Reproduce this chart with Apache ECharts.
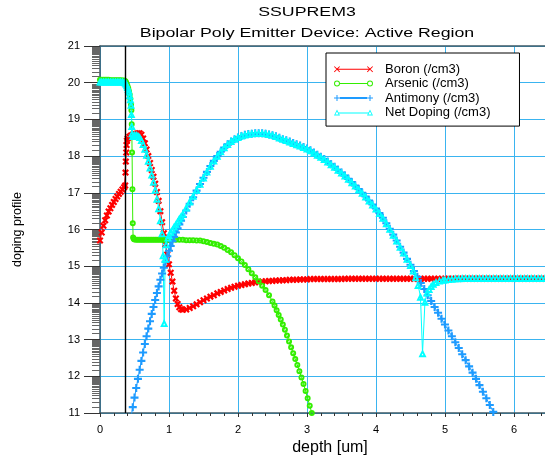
<!DOCTYPE html>
<html>
<head>
<meta charset="utf-8">
<script src="https://cdn.jsdelivr.net/npm/echarts@6/dist/echarts.min.js"></script>
<style>
  html, body { margin: 0; padding: 0; background: #fff; }
  #main { width: 545px; height: 458px; }
</style>
</head>
<body>
<div id="main"></div>
<script>
// depth [um] , log10 concentration [/cm3]
var boron = [
  [0,15.70],[0.025,15.92],[0.05,16.10],[0.075,16.25],[0.1,16.38],[0.125,16.49],[0.15,16.58],[0.175,16.67],
  [0.2,16.75],[0.225,16.83],[0.25,16.90],[0.275,16.97],[0.3,17.03],[0.325,17.09],[0.35,17.15],[0.365,17.20],
  [0.37,17.55],[0.375,17.85],[0.38,18.10],[0.385,18.30],[0.39,18.42],[0.4,18.48],[0.425,18.53],[0.45,18.56],
  [0.475,18.58],[0.5,18.60],[0.525,18.61],[0.55,18.62],[0.575,18.62],[0.6,18.58],[0.625,18.48],[0.65,18.35],
  [0.675,18.18],[0.7,18.00],[0.725,17.81],[0.75,17.62],[0.775,17.44],[0.8,17.25],[0.825,17.02],[0.85,16.78],
  [0.875,16.50],[0.9,16.20],[0.925,15.90],[0.95,15.60],[0.975,15.32],[1.0,15.05],[1.025,14.82],[1.05,14.58],
  [1.075,14.33],[1.1,14.12],[1.125,13.97],[1.15,13.88],[1.175,13.83],[1.2,13.81],[1.25,13.82],[1.3,13.86],
  [1.35,13.91],[1.4,13.96],[1.45,14.02],[1.5,14.07],[1.55,14.12],[1.6,14.17],[1.65,14.21],[1.7,14.26],
  [1.75,14.30],[1.8,14.34],[1.85,14.38],[1.9,14.41],[1.95,14.44],[2.0,14.47],[2.05,14.49],[2.1,14.51],
  [2.15,14.53],[2.2,14.54],[2.25,14.56],[2.3,14.57],[2.35,14.58],[2.4,14.59],[2.45,14.60],[2.5,14.60],
  [2.55,14.61],[2.6,14.61],[2.65,14.62],[2.7,14.62],[2.75,14.63],[2.8,14.63],[2.85,14.63],[2.9,14.64],
  [2.95,14.64],[3.0,14.64],[3.05,14.65],[3.1,14.65],[3.15,14.65],[3.2,14.65],[3.25,14.65],[3.3,14.65],
  [3.35,14.65],[3.4,14.65],[3.45,14.65],[3.5,14.65],[3.55,14.66],[3.6,14.66],[3.65,14.66],[3.7,14.66],
  [3.75,14.66],[3.8,14.66],[3.85,14.66],[3.9,14.66],[3.95,14.66],[4.0,14.66],[4.05,14.66],[4.1,14.66],
  [4.15,14.66],[4.2,14.66],[4.25,14.66],[4.3,14.66],[4.35,14.66],[4.4,14.66],[4.45,14.66],[4.5,14.66],
  [4.55,14.66],[4.6,14.66],[4.65,14.66],[4.7,14.66],[4.75,14.66],[4.8,14.66],[4.85,14.66],[4.9,14.66],
  [4.95,14.66],[5.0,14.66],[5.05,14.66],[5.1,14.66],[5.15,14.66],[5.2,14.66],[5.25,14.66],[5.3,14.66],
  [5.35,14.66],[5.4,14.66],[5.45,14.66],[5.5,14.66],[5.55,14.66],[5.6,14.66],[5.65,14.66],[5.7,14.66],
  [5.75,14.66],[5.8,14.66],[5.85,14.66],[5.9,14.66],[5.95,14.66],[6.0,14.66],[6.05,14.66],[6.1,14.66],
  [6.15,14.66],[6.2,14.66],[6.25,14.66],[6.3,14.66],[6.35,14.66],[6.4,14.66],[6.45,14.66]
];

var arsenic = [
  [0,20.08],[0.025,20.08],[0.05,20.08],[0.075,20.08],[0.1,20.08],[0.125,20.08],[0.15,20.07],[0.175,20.07],
  [0.2,20.07],[0.225,20.07],[0.25,20.07],[0.275,20.07],[0.3,20.07],[0.325,20.06],[0.35,20.06],
  [0.37,20.04],[0.38,20.00],[0.39,19.95],[0.4,19.90],[0.41,19.84],[0.42,19.77],[0.43,19.68],[0.44,19.56],
  [0.45,19.40],[0.455,19.25],[0.46,18.87],[0.465,18.10],[0.47,17.10],[0.475,16.17],[0.48,15.78],[0.49,15.74],
  [0.5,15.73],[0.525,15.72],[0.55,15.72],[0.575,15.72],[0.6,15.72],[0.625,15.72],[0.65,15.72],[0.675,15.72],
  [0.7,15.72],[0.725,15.72],[0.75,15.72],[0.775,15.72],[0.8,15.72],[0.825,15.72],[0.85,15.72],[0.875,15.72],
  [0.9,15.72],[0.925,15.72],[0.95,15.72],[0.975,15.72],[1.0,15.72],[1.05,15.72],[1.1,15.72],[1.15,15.72],
  [1.2,15.72],[1.25,15.71],[1.3,15.71],[1.35,15.71],[1.4,15.70],[1.45,15.70],[1.5,15.68],[1.55,15.66],
  [1.6,15.63],[1.65,15.61],[1.7,15.59],[1.75,15.55],[1.8,15.50],[1.85,15.44],[1.9,15.38],[1.95,15.30],
  [2.0,15.22],[2.05,15.13],[2.1,15.03],[2.15,14.92],[2.2,14.81],[2.25,14.70],[2.3,14.59],[2.35,14.47],
  [2.4,14.35],[2.45,14.21],[2.5,14.04],[2.53,13.93],[2.56,13.80],[2.59,13.67],[2.62,13.55],[2.65,13.41],
  [2.68,13.27],[2.71,13.11],[2.74,12.95],[2.77,12.79],[2.8,12.63],[2.83,12.47],[2.86,12.31],[2.89,12.14],
  [2.92,11.97],[2.95,11.79],[2.98,11.60],[3.01,11.40],[3.04,11.20],[3.07,11.00],[3.09,10.86]
];

var antimony = [
  [0.45,10.89],[0.475,11.16],[0.5,11.42],[0.525,11.68],[0.55,11.93],[0.575,12.18],[0.6,12.42],[0.625,12.65],
  [0.65,12.88],[0.675,13.09],[0.7,13.30],[0.725,13.50],[0.75,13.70],[0.775,13.89],[0.8,14.08],[0.825,14.27],
  [0.85,14.45],[0.875,14.63],[0.9,14.80],[0.925,14.96],[0.95,15.12],[0.975,15.27],[1.0,15.42],[1.025,15.55],
  [1.05,15.68],[1.075,15.80],[1.1,15.92],[1.125,16.03],[1.15,16.14],[1.175,16.24],[1.2,16.34],[1.25,16.52],
  [1.3,16.70],[1.35,16.88],[1.4,17.06],[1.45,17.24],[1.5,17.41],[1.55,17.57],[1.6,17.73],[1.65,17.87],
  [1.7,18.00],[1.75,18.12],[1.8,18.23],[1.85,18.32],[1.9,18.40],[1.95,18.46],[2.0,18.51],[2.05,18.55],
  [2.1,18.58],[2.15,18.60],[2.2,18.61],[2.25,18.62],[2.3,18.62],[2.35,18.62],[2.4,18.61],[2.45,18.59],
  [2.5,18.57],[2.55,18.54],[2.6,18.50],[2.65,18.46],[2.7,18.43],[2.75,18.40],[2.8,18.36],[2.85,18.32],
  [2.9,18.29],[2.95,18.25],[3.0,18.21],[3.05,18.16],[3.1,18.10],[3.15,18.04],[3.2,17.98],[3.25,17.92],
  [3.3,17.85],[3.35,17.78],[3.4,17.71],[3.45,17.63],[3.5,17.55],[3.55,17.47],[3.6,17.38],[3.65,17.29],
  [3.7,17.20],[3.75,17.10],[3.8,17.00],[3.85,16.90],[3.9,16.79],[3.95,16.68],[4.0,16.57],[4.05,16.45],
  [4.1,16.32],[4.15,16.17],[4.2,16.02],[4.25,15.86],[4.3,15.70],[4.35,15.53],[4.4,15.37],[4.45,15.20],
  [4.5,15.04],[4.55,14.87],[4.6,14.71],[4.65,14.54],[4.7,14.38],[4.75,14.21],[4.8,14.05],[4.85,13.89],
  [4.9,13.73],[4.95,13.57],[5.0,13.41],[5.05,13.25],[5.1,13.09],[5.15,12.93],[5.2,12.77],[5.25,12.60],
  [5.3,12.44],[5.35,12.27],[5.4,12.10],[5.45,11.93],[5.5,11.76],[5.55,11.58],[5.6,11.40],[5.65,11.22],
  [5.7,11.03],[5.75,10.85]
];

var netDoping = [
  [0,20.03],[0.025,20.03],[0.05,20.03],[0.075,20.03],[0.1,20.03],[0.125,20.03],[0.15,20.03],[0.175,20.03],
  [0.2,20.03],[0.225,20.03],[0.25,20.03],[0.275,20.03],[0.3,20.03],[0.325,20.03],[0.35,20.02],
  [0.37,20.00],[0.38,19.97],[0.39,19.93],[0.4,19.88],[0.41,19.83],[0.42,19.76],[0.43,19.66],[0.44,19.55],
  [0.45,19.40],[0.455,19.15],[0.46,18.82],[0.465,18.62],[0.475,18.55],[0.5,18.58],[0.525,18.58],[0.55,18.56],
  [0.575,18.52],[0.6,18.44],[0.625,18.33],[0.65,18.20],[0.675,18.04],[0.7,17.87],[0.725,17.69],[0.75,17.50],
  [0.775,17.30],[0.8,17.08],[0.825,16.84],[0.85,16.58],[0.875,16.25],[0.9,15.90],[0.915,15.30],[0.93,13.45],
  [0.945,15.20],[0.96,15.60],[0.985,15.78],[1.0,15.85],[1.025,15.93],[1.05,16.00],[1.075,16.08],[1.1,16.14],
  [1.125,16.22],[1.15,16.30],[1.175,16.36],[1.2,16.43],[1.25,16.60],[1.3,16.76],[1.35,16.92],[1.4,17.08],
  [1.45,17.25],[1.5,17.42],[1.55,17.58],[1.6,17.74],[1.65,17.88],[1.7,18.01],[1.75,18.13],[1.8,18.24],
  [1.85,18.33],[1.9,18.41],[1.95,18.47],[2.0,18.52],[2.05,18.56],[2.1,18.59],[2.15,18.61],[2.2,18.62],
  [2.25,18.63],[2.3,18.63],[2.35,18.63],[2.4,18.62],[2.45,18.60],[2.5,18.58],[2.55,18.55],[2.6,18.51],
  [2.65,18.47],[2.7,18.44],[2.75,18.40],[2.8,18.36],[2.85,18.32],[2.9,18.29],[2.95,18.25],[3.0,18.21],
  [3.05,18.16],[3.1,18.10],[3.15,18.04],[3.2,17.98],[3.25,17.92],[3.3,17.85],[3.35,17.78],[3.4,17.71],
  [3.45,17.63],[3.5,17.55],[3.55,17.47],[3.6,17.38],[3.65,17.29],[3.7,17.20],[3.75,17.10],[3.8,17.00],
  [3.85,16.90],[3.9,16.79],[3.95,16.68],[4.0,16.57],[4.05,16.45],[4.1,16.32],[4.15,16.17],[4.2,16.02],
  [4.25,15.86],[4.3,15.70],[4.35,15.53],[4.4,15.37],[4.45,15.20],[4.5,15.03],[4.54,14.88],[4.575,14.70],
  [4.61,14.49],[4.645,14.17],[4.675,12.63],[4.71,14.03],[4.74,14.28],[4.77,14.38],[4.8,14.46],[4.83,14.52],
  [4.87,14.57],[4.92,14.61],[4.97,14.63],[5.0,14.64],[5.05,14.65],[5.1,14.66],[5.15,14.67],[5.2,14.67],
  [5.25,14.68],[5.3,14.68],[5.35,14.68],[5.4,14.68],[5.45,14.68],[5.5,14.68],[5.55,14.68],[5.6,14.68],
  [5.65,14.68],[5.7,14.68],[5.75,14.68],[5.8,14.68],[5.85,14.68],[5.9,14.68],[5.95,14.68],[6.0,14.68],
  [6.05,14.68],[6.1,14.68],[6.15,14.68],[6.2,14.68],[6.25,14.68],[6.3,14.68],[6.35,14.68],[6.4,14.68],
  [6.45,14.68]
];

var junctionDepth = 0.37;
var xTickLabels = [0, 1, 2, 3, 4, 5, 6];
// log-decade minor ticks on the y axis (mantissa values)
var minorMantissa = [1.5, 2, 2.5, 3, 3.5, 4, 4.5, 5, 5.5, 6, 6.5, 7, 7.5, 8, 8.5, 9, 9.5];

var FONT = '"Liberation Sans", Arial, sans-serif';
var GRID_BLUE = '#3ab4f0';
var FRAME = '#3f5966';

// marker shapes (thick outlines, small opening inside)
var xMark = 'path://M0,2.2L2.2,0L5,2.8L7.8,0L10,2.2L7.2,5L10,7.8L7.8,10L5,7.2L2.2,10L0,7.8L2.8,5Z';
var plusMark = 'path://M3.7,0H6.3V3.7H10V6.3H6.3V10H3.7V6.3H0V3.7H3.7Z';
var ringMark = 'path://M0,5A5,5 0 1,0 10,5A5,5 0 1,0 0,5ZM3.2,5A1.8,1.8 0 1,1 6.8,5A1.8,1.8 0 1,1 3.2,5Z';
var triMark = 'path://M5,0L10,9.5H0ZM5,4.8L3.9,7.2H6.1Z';

// legend icons: line with a marker at both ends (39 x 6 box)
var legX = 'path://M0,0.6L0.6,0L3,2.4L5.4,0L6,0.6L3.6,3L6,5.4L5.4,6L3,3.6L0.6,6L0,5.4L2.4,3Z' +
  'M33,0.6L33.6,0L36,2.4L38.4,0L39,0.6L36.6,3L39,5.4L38.4,6L36,3.6L33.6,6L33,5.4L35.4,3Z M3.6,2.5H35.4V3.5H3.6Z';
var legRing = 'path://M0,3A3,3 0 1,0 6,3A3,3 0 1,0 0,3ZM1,3A2,2 0 1,1 5,3A2,2 0 1,1 1,3Z' +
  'M33,3A3,3 0 1,0 39,3A3,3 0 1,0 33,3ZM34,3A2,2 0 1,1 38,3A2,2 0 1,1 34,3Z M6,2.5H33V3.5H6Z';
var legPlus = 'path://M2.5,0H3.5V2.5H6V3.5H3.5V6H2.5V3.5H0V2.5H2.5Z' +
  'M35.5,0H36.5V2.5H39V3.5H36.5V6H35.5V3.5H33V2.5H35.5Z M6,2H33V4H6Z';
var legTri = 'path://M3,0L6,6H0ZM3,2L1.3,5.2H4.7ZM36,0L39,6H33ZM36,2L34.3,5.2H37.7ZM4.5,3H34.5V4H4.5Z';

var yMinor = [];
for (var n = 11; n < 21; n++) {
  for (var k = 0; k < minorMantissa.length; k++) {
    yMinor.push([0, n + Math.log10(minorMantissa[k])]);
  }
}

function lineSeries(name, data, color, symbol, size, lw) {
  return {
    name: name,
    type: 'line',
    data: data,
    symbol: symbol,
    symbolSize: size,
    showSymbol: true,
    showAllSymbol: true,
    clip: true,
    silent: true,
    animation: false,
    itemStyle: { color: color, borderWidth: 0 },
    lineStyle: { color: color, width: lw || 1 },
    emphasis: { disabled: true }
  };
}

var chart = echarts.init(document.getElementById('main'), null, { renderer: 'canvas' });

var netSeries = lineSeries('Net Doping (/cm3)', netDoping, '#00ffff', triMark, 8);
netSeries.markLine = {
  silent: true,
  animation: false,
  symbol: ['none', 'none'],
  label: { show: false },
  lineStyle: { color: '#000', width: 1.4, type: 'solid' },
  emphasis: { disabled: true },
  data: [{ xAxis: junctionDepth }]
};

chart.setOption({
  animation: false,
  backgroundColor: '#fff',
  textStyle: { fontFamily: FONT },
  grid: { left: 100, right: 0, top: 46, bottom: 45, outerBoundsMode: 'none', containLabel: false },
  graphic: [
    { type: 'text', x: 307, y: 12.5, scaleX: 1.42, silent: true,
      style: { text: 'SSUPREM3', font: '12.5px ' + FONT, fill: '#000',
               align: 'center', verticalAlign: 'middle', textAlign: 'center', textVerticalAlign: 'middle' } },
    { type: 'text', x: 307, y: 34, scaleX: 1.42, silent: true,
      style: { text: 'Bipolar Poly Emitter Device: Active Region', font: '12.5px ' + FONT, fill: '#000',
               align: 'center', verticalAlign: 'middle', textAlign: 'center', textVerticalAlign: 'middle' } }
  ],
  legend: {
    orient: 'vertical',
    left: 326,
    top: 53,
    padding: [9, 29, 6.5, 8],
    itemGap: 0,
    itemWidth: 39,
    itemHeight: 6,
    selectedMode: false,
    backgroundColor: '#fff',
    borderColor: '#000',
    borderWidth: 1,
    borderRadius: 0,
    itemStyle: { borderWidth: 0 },
    textStyle: { fontSize: 13, fontFamily: FONT, color: '#000', lineHeight: 14.4, padding: [0, 0, 0, 7] },
    data: [
      { name: 'Boron (/cm3)', icon: legX, itemStyle: { color: '#ff0000', borderWidth: 0 } },
      { name: 'Arsenic (/cm3)', icon: legRing, itemStyle: { color: '#33ee00', borderWidth: 0 } },
      { name: 'Antimony (/cm3)', icon: legPlus, itemStyle: { color: '#1e9bff', borderWidth: 0 } },
      { name: 'Net Doping (/cm3)', icon: legTri, itemStyle: { color: '#00ffff', borderWidth: 0 } }
    ]
  },
  xAxis: [
    {
      type: 'value', min: 0, max: 6.45, interval: 1, position: 'bottom',
      name: 'depth [um]', nameLocation: 'middle', nameGap: 27, nameMoveOverlap: false,
      nameTextStyle: { fontSize: 16, color: '#000', fontFamily: FONT, padding: [0, 0, 0, 15] },
      axisLine: { show: true, lineStyle: { color: FRAME, width: 1.5 } },
      axisTick: { show: true, length: 4, lineStyle: { color: '#333' } },
      axisLabel: {
        show: true, margin: 11, fontSize: 11, color: '#000', fontFamily: FONT,
        showMaxLabel: false,
        formatter: function (v) { return xTickLabels.indexOf(v) >= 0 ? String(v) : ''; }
      },
      splitLine: { show: true, lineStyle: { color: GRID_BLUE, width: 1 } }
    },
    {
      type: 'value', min: 0, max: 6.45, interval: 0.2, position: 'bottom',
      axisLine: { show: false },
      axisTick: { show: true, length: 3, lineStyle: { color: '#333' } },
      axisLabel: { show: false },
      splitLine: { show: false }
    },
    {
      type: 'value', min: 0, max: 6.45, position: 'top',
      axisLine: { show: true, lineStyle: { color: FRAME, width: 1.5 } },
      axisTick: { show: false },
      axisLabel: { show: false },
      splitLine: { show: false }
    }
  ],
  yAxis: {
    type: 'value', min: 11, max: 21, interval: 1,
    name: 'doping profile', nameLocation: 'middle', nameGap: 76, nameMoveOverlap: false,
    nameTextStyle: { fontSize: 12.5, color: '#000', fontFamily: FONT },
    axisLine: { show: true, lineStyle: { color: FRAME, width: 1.5 } },
    axisTick: { show: true, length: 16, lineStyle: { color: '#333' } },
    axisLabel: { show: true, margin: 20, fontSize: 11, color: '#000', fontFamily: FONT },
    splitLine: { show: true, lineStyle: { color: GRID_BLUE, width: 1 } }
  },
  series: [
    {
      name: 'yMinorTicks',
      type: 'custom',
      silent: true,
      animation: false,
      clip: false,
      data: yMinor,
      encode: { x: 0, y: 1 },
      renderItem: function (params, api) {
        var p = api.coord([api.value(0), api.value(1)]);
        var y = Math.round(p[1]) + 0.5;
        return {
          type: 'line',
          shape: { x1: p[0] - 8, y1: y, x2: p[0], y2: y },
          style: { stroke: '#666', lineWidth: 1 }
        };
      }
    },
    lineSeries('Boron (/cm3)', boron, '#ff0000', xMark, 7),
    lineSeries('Arsenic (/cm3)', arsenic, '#33ee00', ringMark, 6),
    lineSeries('Antimony (/cm3)', antimony, '#1e9bff', plusMark, 8),
    netSeries
  ]
});
</script>
</body>
</html>
